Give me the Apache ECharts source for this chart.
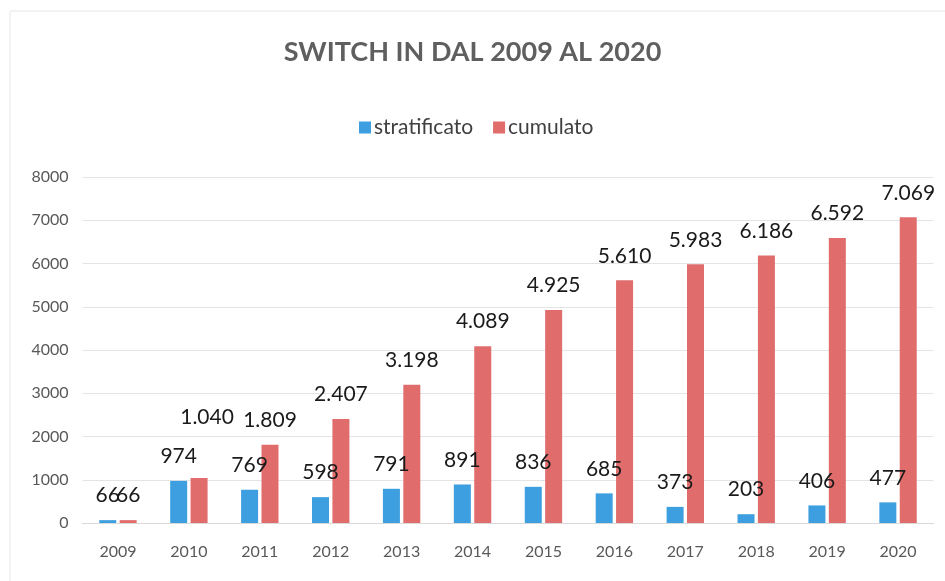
<!DOCTYPE html>
<html>
<head>
<meta charset="utf-8">
<script src="https://cdn.jsdelivr.net/npm/echarts@6/dist/echarts.min.js"></script>
<style>html,body{margin:0;padding:0;background:#fff}#c{width:945px;height:581px}</style>
</head>
<body>
<div id="c"></div>
<script>
var years = ['2009','2010','2011','2012','2013','2014','2015','2016','2017','2018','2019','2020'];
var stratificato = [66, 974, 769, 598, 791, 891, 836, 685, 373, 203, 406, 477];
var cumulato = [66, 1040, 1809, 2407, 3198, 4089, 4925, 5610, 5983, 6186, 6592, 7069];

function fmt(v){ return String(v).replace(/\B(?=(\d{3})+(?!\d))/g, '.'); }

var labelFont = 'Lato, "Open Sans", sans-serif';
var chart = echarts.init(document.getElementById('c'));
chart.setOption({
  backgroundColor: '#ffffff',
  animation: false,
  graphic: [{
    type: 'rect', shape: {x: 10, y: 11, width: 940, height: 580},
    style: {fill: 'none', stroke: '#e6e6e6', lineWidth: 1}, silent: true
  }],
  title: {
    text: 'SWITCH IN DAL 2009 AL 2020',
    left: 'center', top: 34,
    textStyle: {fontFamily: labelFont, fontSize: 27, fontWeight: 'bold', color: '#5f5f5f'}
  },
  legend: {
    left: 354, top: 112,
    itemWidth: 12, itemHeight: 12, itemGap: 20,
    icon: 'rect',
    textStyle: {fontFamily: labelFont, fontSize: 21, color: '#404040', padding: [0,0,0,-2]},
    data: ['stratificato', 'cumulato']
  },
  grid: {left: 82.5, right: 11.5, top: 177, bottom: 58, containLabel: false},
  xAxis: {
    type: 'category', data: years,
    axisLine: {show: true, lineStyle: {color: '#d9d9d9'}},
    axisTick: {show: false},
    axisLabel: {fontFamily: labelFont, fontSize: 16, color: '#595959', margin: 21}
  },
  yAxis: {
    type: 'value', min: 0, max: 8000, interval: 1000,
    axisLine: {show: false}, axisTick: {show: false},
    splitLine: {lineStyle: {color: '#e4e4e4'}},
    axisLabel: {fontFamily: labelFont, fontSize: 16, color: '#595959', margin: 14,
      formatter: function(v){ return String(v); }}
  },
  series: [{
    name: 'stratificato', type: 'bar', data: stratificato,
    barWidth: 17, barGap: '20%',
    itemStyle: {color: '#3d9fe0'},
    label: {show: true, position: 'top', distance: 14, formatter: function(p){return fmt(p.value);},
      fontFamily: labelFont, fontSize: 21, color: '#1a1a1a'}
  }, {
    name: 'cumulato', type: 'bar',
    data: cumulato.map(function(v, i){
      return i === 1 ? {value: v, label: {offset: [8, -36]}} : v;
    }),
    barWidth: 17,
    itemStyle: {color: '#e06c6c'},
    label: {show: true, position: 'top', distance: 14, formatter: function(p){return fmt(p.value);},
      fontFamily: labelFont, fontSize: 21, color: '#1a1a1a'}
  }]
});
</script>
</body>
</html>
